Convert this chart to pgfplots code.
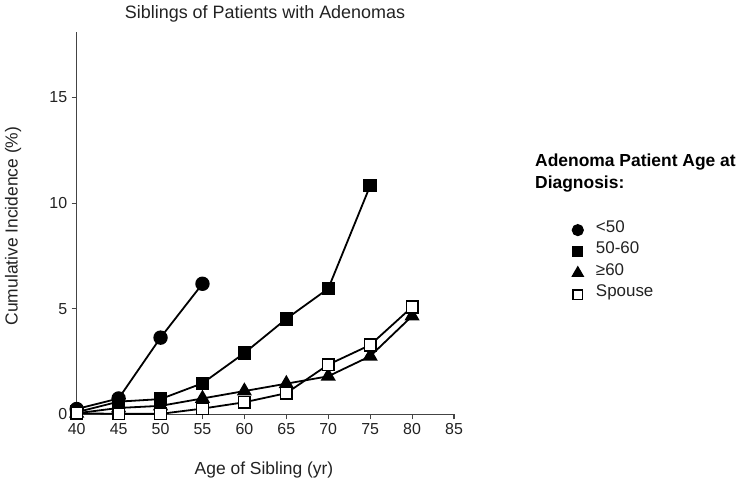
\documentclass[border=0pt]{standalone}
\usepackage{pgfplots}
\pgfplotsset{compat=1.18}
\usepackage{fontspec}
\setmainfont{Liberation Sans}
\definecolor{txt}{HTML}{222222}
\definecolor{axc}{HTML}{444444}
\begin{document}
\begin{tikzpicture}
\path[use as bounding box] (0,0) rectangle (750bp,486bp);
\begin{axis}[
  at={(76.7bp,71.7bp)}, anchor=south west,
  scale only axis, width=377.3bp, height=382.3bp,
  xmin=40, xmax=85, ymin=0, ymax=18.1,
  axis lines=left, axis line style={-, axc, line width=1.3bp},
  xtick={40,45,...,85}, ytick={0,5,10,15},
  tick align=outside, major tick length=5bp,
  tick style={axc, line width=1.1bp},
  /pgf/number format/assume math mode=true,
  tick label style={font=\fontsize{16}{18}\selectfont, text=txt},
  xticklabel style={yshift=-1bp},
  yticklabel style={xshift=-1bp},
  clip=false,
  every axis plot/.append style={black, line width=1.8bp},
  legend image code/.code={\draw[#1, every mark/.append style={scale=0.82}] plot coordinates {(0.2cm,-3bp)};},
  legend style={draw=none, fill=none, at={(1.306,0.518)}, anchor=north west,
    font=\fontsize{17}{19}\selectfont, text=txt, row sep=4.2bp,
    /tikz/every odd column/.append style={column sep=11bp}},
  legend cell align=left,
]
\addplot[mark=*, mark size=6.3bp, mark options={solid, fill=black}] coordinates {
(40,0.25) (45,0.75) (50,3.63) (55,6.18)};
\addlegendentry{<50}
\addplot[mark=square*, mark size=5.8bp, mark options={solid, fill=black}] coordinates {
(40,0.1) (45,0.6) (50,0.72) (55,1.47) (60,2.9) (65,4.52) (70,5.95) (75,10.82)};
\addlegendentry{50-60}
\addplot[mark=triangle*, mark size=7bp, mark options={solid, fill=black}] coordinates {
(40,0.05) (45,0.3) (50,0.4) (55,0.75) (60,1.1) (65,1.45) (70,1.8) (75,2.75) (80,4.65)};
\addlegendentry{≥60}
\addplot[mark=square*, mark size=5.8bp, mark options={solid, fill=white, line width=1.5bp}] coordinates {
(40,0.05) (45,0.02) (50,0.02) (55,0.27) (60,0.57) (65,1.0) (70,2.35) (75,3.28) (80,5.08)};
\addlegendentry{Spouse}
\end{axis}
\node[text=txt, font=\fontsize{18}{20}\selectfont] at (265bp,472bp) {Siblings of Patients with Adenomas};
\node[text=txt, font=\fontsize{17.5}{19}\selectfont] at (264bp,16bp) {Age of Sibling (yr)};
\node[text=txt, font=\fontsize{17.5}{19}\selectfont, rotate=90] at (13bp,260bp) {Cumulative Incidence (\%)};
\node[text=black, font=\bfseries\fontsize{17.5}{22}\selectfont, anchor=north west, align=left, inner sep=0pt] at (535bp,332bp) {Adenoma Patient Age at\\Diagnosis:};
\end{tikzpicture}
\end{document}
